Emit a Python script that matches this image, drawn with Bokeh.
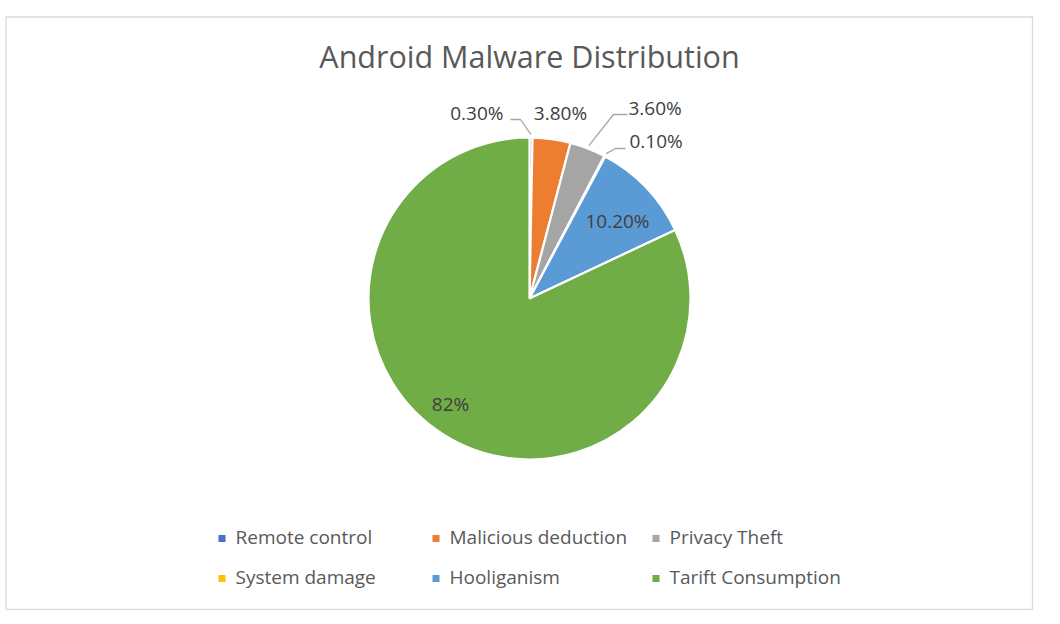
import math
from bokeh.plotting import figure
from bokeh.models import Range1d
from bokeh.core.properties import value
from bokeh.embed import file_html
from bokeh.resources import INLINE

# ---- data ----
categories = ["Remote  control", "Malicious deduction", "Privacy Theft",
              "System damage", "Hooliganism", "Tarift Consumption"]
shares = [0.3, 3.8, 3.6, 0.1, 10.2, 82.0]
labels = ["0.30%", "3.80%", "3.60%", "0.10%", "10.20%", "82%"]
colors = ["#4472C4", "#ED7D31", "#A5A5A5", "#FFC000", "#5B9BD5", "#70AD47"]
title = "Android Malware Distribution"

# ---- layout (page pixel coordinates, converted below) ----
W, H = 1044, 610
def X(px): return px
def Y(py): return H - py

cx, cy, R = 529, 298, 161
TXT_DY = -2  # text vertical nudge (page px)

# label anchors (page coords) and alignment
label_pos = [(503, 114, "right"), (560, 114, "center"), (628, 109, "left"),
             (629, 142, "left"), (617, 222, "center"), (450, 405, "center")]
# leader elbows: (elbow_x, elbow_y, end_x) for labels with leader lines
leaders = {0: (520, 119, 510), 2: (613, 114, 627), 3: (615, 148, 625)}

p = figure(width=W, height=H, output_backend="svg", toolbar_location=None,
           x_range=Range1d(0, W), y_range=Range1d(0, H), min_border=0)
p.axis.visible = False
p.grid.visible = False
p.outline_line_color = None
p.background_fill_color = "white"

# chart border
p.quad(left=[X(5.5)], right=[X(1032)], bottom=[Y(609)], top=[Y(16.5)],
       fill_color=None, line_color="#D9D9D9", line_width=1.3)

# wedges
total = sum(shares)
cum = 0.0
starts, ends, mids = [], [], []
for s in shares:
    a0 = math.pi / 2 - 2 * math.pi * cum / total
    cum += s
    a1 = math.pi / 2 - 2 * math.pi * cum / total
    starts.append(a0); ends.append(a1); mids.append((a0 + a1) / 2)

p.wedge(x=[X(cx)] * len(shares), y=[Y(cy)] * len(shares), radius=R,
        start_angle=starts, end_angle=ends, direction="clock",
        fill_color=colors, line_color="white", line_width=2.2)

# leader lines
for i, (ex, ey, tx) in leaders.items():
    r0 = R + 3
    sx = cx + r0 * math.cos(mids[i])
    sy = cy - r0 * math.sin(mids[i])
    p.line([X(sx), X(ex), X(tx)], [Y(sy), Y(ey), Y(ey)],
           line_color="#A6A6A6", line_width=1.3)

# data labels
for i, lab in enumerate(labels):
    lx, ly, al = label_pos[i]
    p.text(x=[X(lx)], y=[Y(ly + TXT_DY)], text=[lab], text_align=al,
           text_baseline="middle", text_font=value("Open Sans"),
           text_font_size="19px", text_color="#404040")

# title
p.text(x=[X(529)], y=[Y(57 + TXT_DY)], text=[title], text_align="center",
       text_baseline="middle", text_font=value("Open Sans"),
       text_font_size="30.5px", text_color="#595959")

# legend
col_x = [218, 432, 652]
row_y = [538, 578]
for i, (cat, col) in enumerate(zip(categories, colors)):
    lx = col_x[i % 3]
    ly = row_y[i // 3]
    p.rect(x=[X(lx + 3.5)], y=[Y(ly)], width=7, height=7,
           fill_color=col, line_color=None)
    p.text(x=[X(lx + 17)], y=[Y(ly + TXT_DY)], text=[cat], text_align="left",
           text_baseline="middle", text_font=value("Open Sans"),
           text_font_size="19px", text_color="#595959")

open("out.html", "w").write(file_html(p, INLINE))
